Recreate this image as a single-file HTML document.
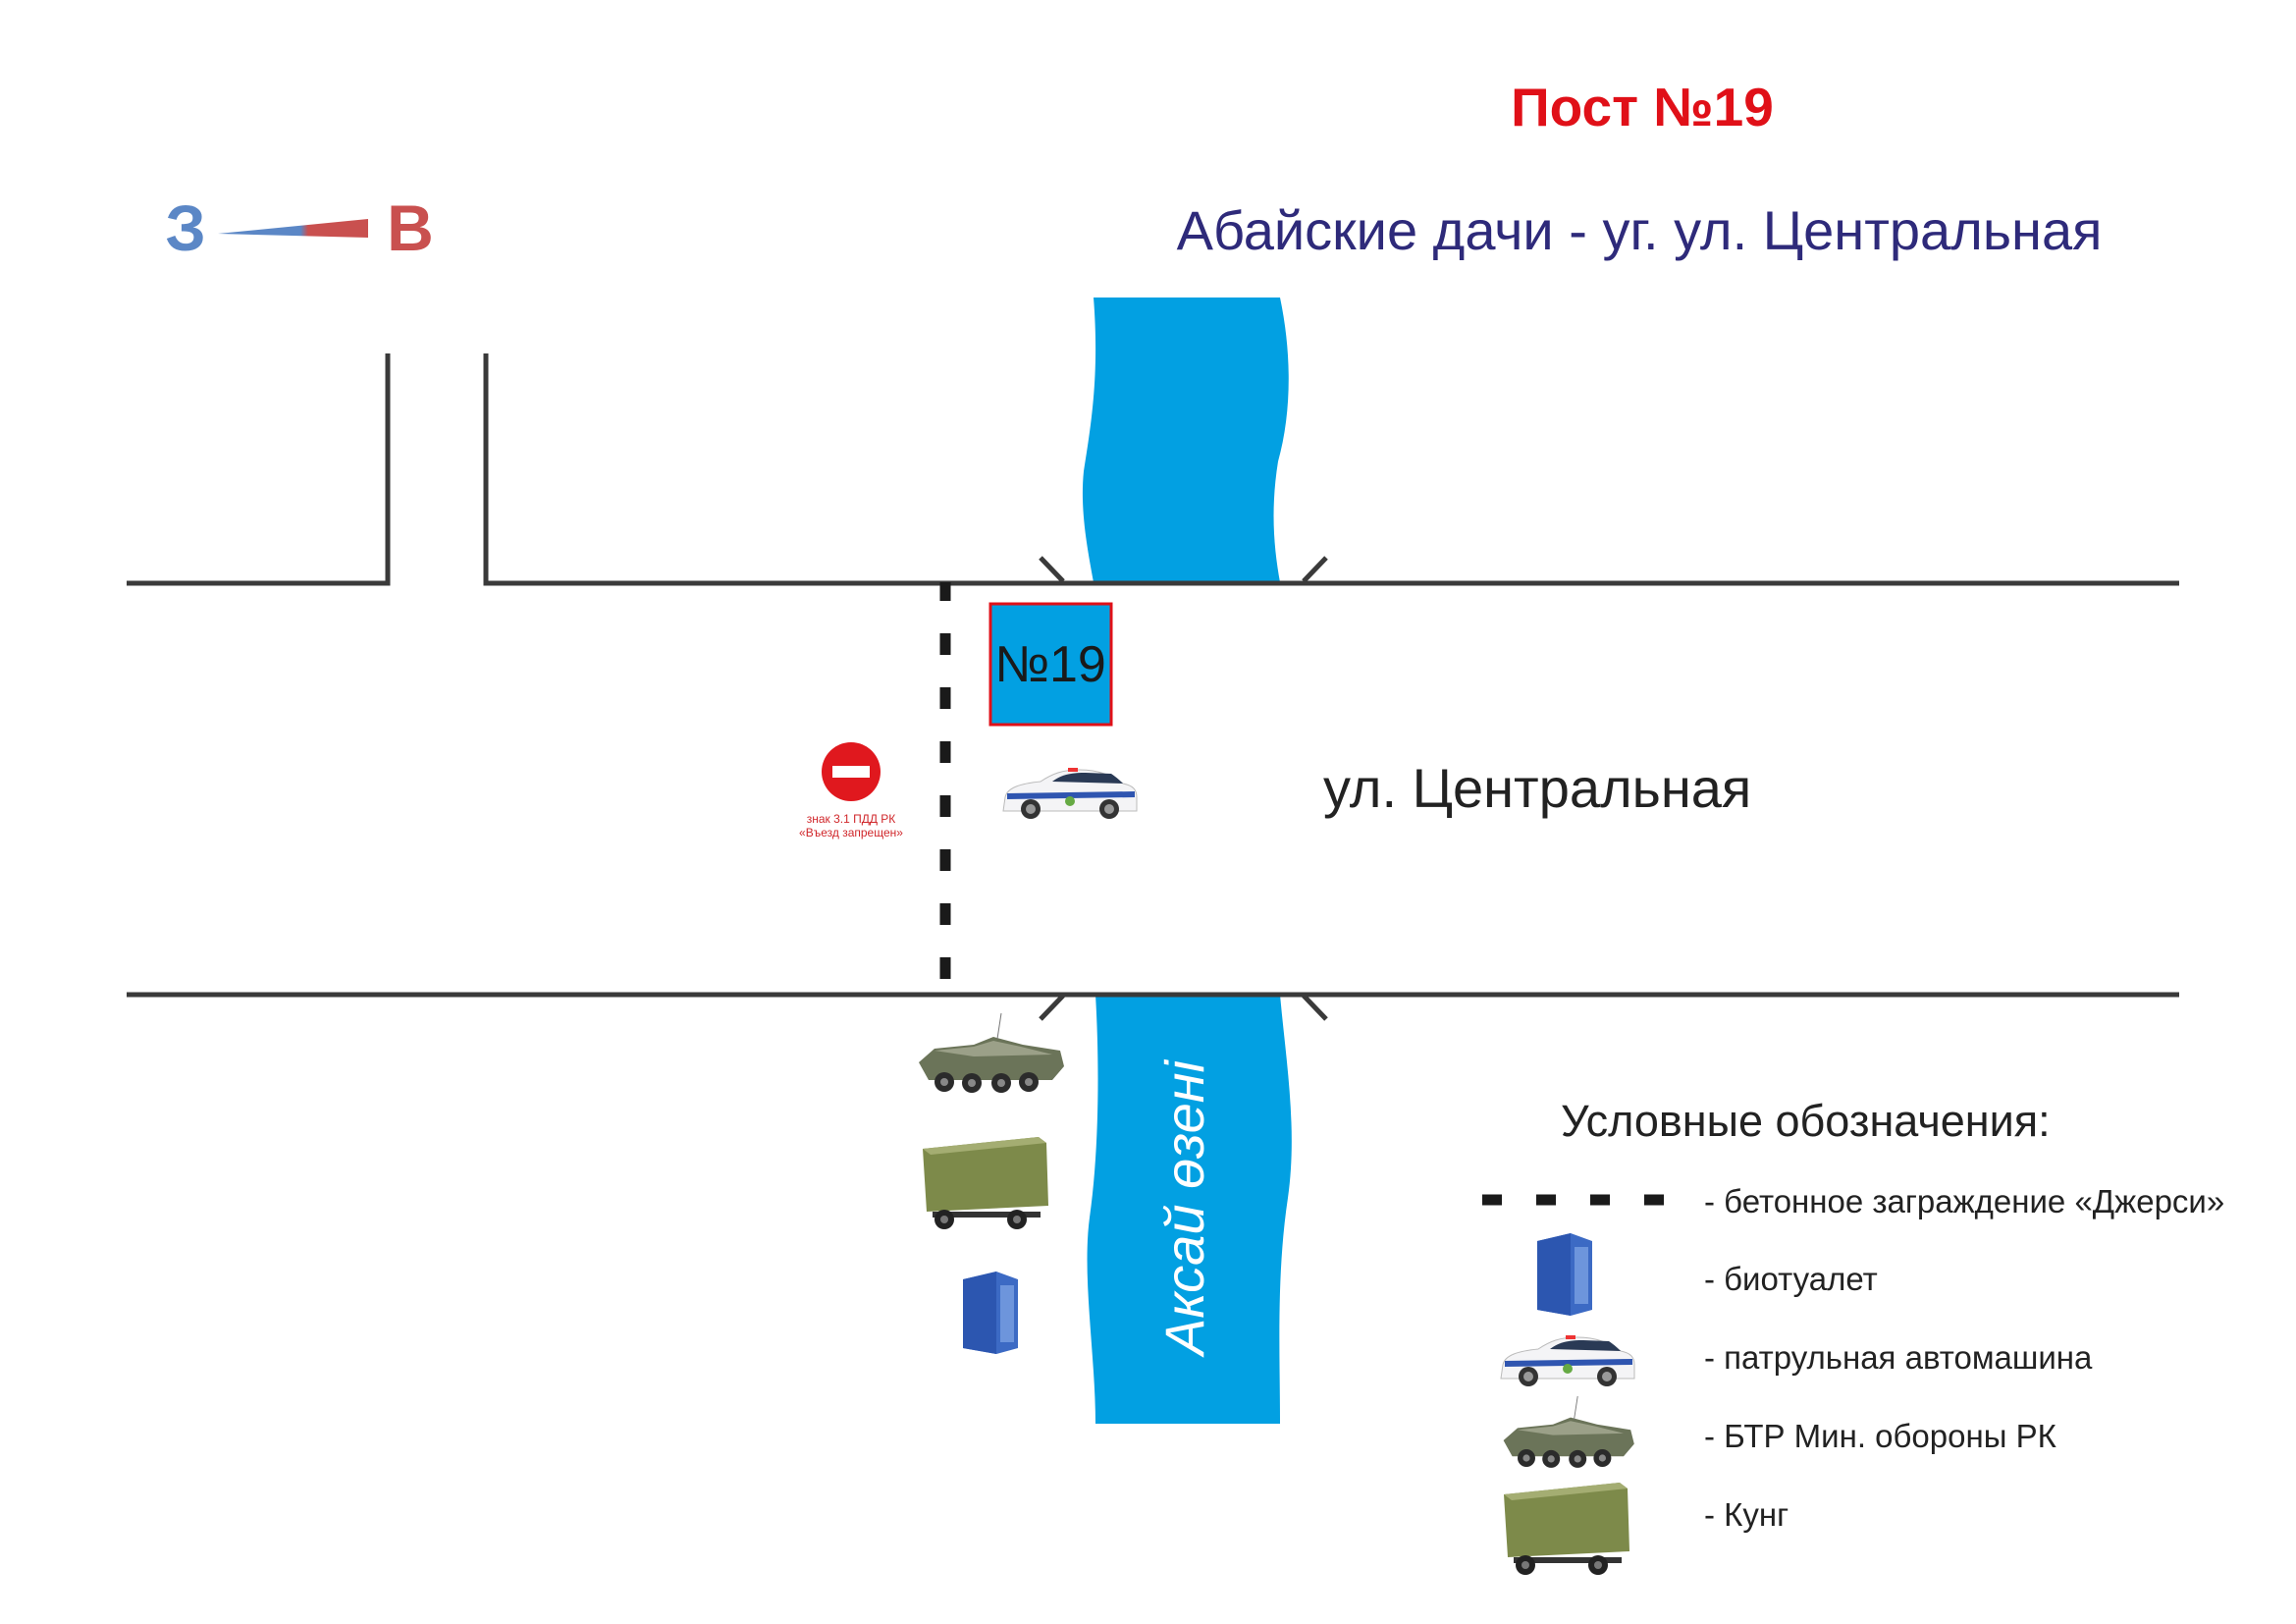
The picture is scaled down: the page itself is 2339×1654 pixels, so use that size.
<!DOCTYPE html>
<html><head><meta charset="utf-8"><style>
html,body{margin:0;padding:0;background:#fff;}
svg{display:block;}
text{font-family:"Liberation Sans",sans-serif;}
</style></head><body>
<svg width="2339" height="1654" viewBox="0 0 2339 1654" xmlns="http://www.w3.org/2000/svg">
<defs>
<linearGradient id="wg" x1="0" x2="1" y1="0" y2="0">
<stop offset="0" stop-color="#5b87c6"/><stop offset="0.55" stop-color="#5b87c6"/><stop offset="0.6" stop-color="#c9504f"/><stop offset="1" stop-color="#c9504f"/></linearGradient>
<g id="car">
<path d="M4,30 C6,20 20,16 40,14 C52,6 62,2 80,2 C100,2 112,8 124,16 C134,18 138,22 138,30 L138,44 L2,44 Z" fill="#f4f4f6" stroke="#bbb" stroke-width="1"/>
<path d="M52,14 C62,6 74,5 86,5 L112,6 C118,10 122,14 124,16 Z" fill="#2a3a55"/>
<rect x="68" y="0" width="10" height="4" fill="#e33"/>
<path d="M6,26 L136,24 L136,30 L6,32 Z" fill="#2f55b0"/>
<circle cx="30" cy="42" r="10" fill="#333"/><circle cx="30" cy="42" r="5" fill="#999"/>
<circle cx="110" cy="42" r="10" fill="#333"/><circle cx="110" cy="42" r="5" fill="#999"/>
<circle cx="70" cy="34" r="5" fill="#6a4"/>
</g>
<g id="btr">
<path d="M4,30 L20,16 L60,12 L80,4 L110,12 L148,18 L152,34 L140,48 L14,48 Z" fill="#6b7459"/>
<path d="M20,18 L60,14 L80,8 L108,14 L140,22 L60,24 Z" fill="#9ba088"/>
<line x1="84" y1="6" x2="88" y2="-20" stroke="#777" stroke-width="1"/>
<g fill="#2b2b2b"><circle cx="30" cy="50" r="10"/><circle cx="58" cy="51" r="10"/><circle cx="88" cy="51" r="10"/><circle cx="116" cy="50" r="10"/></g>
<g fill="#888"><circle cx="30" cy="50" r="4"/><circle cx="58" cy="51" r="4"/><circle cx="88" cy="51" r="4"/><circle cx="116" cy="50" r="4"/></g>
</g>
<g id="kung">
<path d="M0,12 L118,0 L126,6 L128,70 L4,76 Z" fill="#7d8a4a"/>
<path d="M0,12 L118,0 L126,6 L8,18 Z" fill="#a4ad72"/>
<rect x="10" y="76" width="110" height="6" fill="#333"/>
<circle cx="22" cy="84" r="10" fill="#222"/><circle cx="96" cy="84" r="10" fill="#222"/>
<circle cx="22" cy="84" r="4" fill="#777"/><circle cx="96" cy="84" r="4" fill="#777"/>
</g>
<g id="wc">
<path d="M6,8 L40,0 L62,8 L62,78 L40,84 L6,78 Z" fill="#3c6ac4"/>
<path d="M6,8 L40,0 L40,84 L6,78 Z" fill="#2c56b0"/>
<rect x="44" y="14" width="14" height="58" fill="#6d95dc"/>
</g>
</defs>

<text x="1673" y="128" text-anchor="middle" font-size="55" font-weight="bold" fill="#e01018">Пост №19</text>
<text x="1670" y="254" text-anchor="middle" font-size="56" fill="#2e2a7a">Абайские дачи - уг. ул. Центральная</text>

<text x="189" y="255" text-anchor="middle" font-size="66" font-weight="bold" fill="#5b87c6">З</text>
<text x="418" y="255" text-anchor="middle" font-size="66" font-weight="bold" fill="#c9504f">В</text>
<path d="M222,238 L375,223 L375,242 Z" fill="url(#wg)"/>

<!-- river -->
<path d="M1114,303 L1304,303 C1316,360 1316,420 1302,470 C1294,520 1298,560 1304,593 L1114,593 C1108,560 1100,520 1104,480 C1112,430 1120,380 1114,303 Z" fill="#02a0e2"/>
<path d="M1116,1013 L1304,1013 C1310,1080 1322,1150 1312,1220 C1300,1300 1304,1380 1304,1450 L1116,1450 C1116,1380 1102,1300 1110,1240 C1120,1170 1120,1080 1116,1013 Z" fill="#02a0e2"/>
<text transform="translate(1226,1230) rotate(-90)" text-anchor="middle" font-size="56" font-style="italic" fill="#fff">Аксай өзені</text>

<!-- roads -->
<g stroke="#3a3a3a" stroke-width="5" fill="none">
<path d="M129,594 L395,594 L395,360"/>
<path d="M495,360 L495,594 L2220,594"/>
<path d="M129,1013 L2220,1013"/>
<path d="M1060,568 L1083,592 M1351,568 L1328,592 M1083,1014 L1060,1038 M1328,1014 L1351,1038"/>
</g>
<line x1="963" y1="593" x2="963" y2="1005" stroke="#1a1a1a" stroke-width="11" stroke-dasharray="22,33" stroke-dashoffset="3"/>

<rect x="1009" y="615" width="123" height="123" fill="#02a0e2" stroke="#e01018" stroke-width="3"/>
<text x="1070" y="694" text-anchor="middle" font-size="52" fill="#1a1a1a">№19</text>

<use href="#car" transform="translate(1020,782)"/>
<text x="1348" y="822" font-size="56" fill="#222">ул. Центральная</text>

<circle cx="867" cy="786" r="30" fill="#e0181e"/>
<rect x="848" y="780" width="38" height="12" fill="#fff"/>
<text x="867" y="838" text-anchor="middle" font-size="12" fill="#d0262a">знак 3.1 ПДД РК</text>
<text x="867" y="852" text-anchor="middle" font-size="12" fill="#d0262a">«Въезд запрещен»</text>

<use href="#btr" transform="translate(932,1052)"/>
<use href="#kung" transform="translate(940,1158)"/>
<use href="#wc" transform="translate(975,1295)"/>

<!-- legend -->
<text x="1590" y="1157" font-size="45" fill="#222">Условные обозначения:</text>
<line x1="1510" y1="1222" x2="1702" y2="1222" stroke="#1a1a1a" stroke-width="11" stroke-dasharray="20,35"/>
<g font-size="33" fill="#222">
<text x="1736" y="1235">- бетонное заграждение «Джерси»</text>
<text x="1736" y="1314">- биотуалет</text>
<text x="1736" y="1394">- патрульная автомашина</text>
<text x="1736" y="1474">- БТР Мин. обороны РК</text>
<text x="1736" y="1554">- Кунг</text>
</g>
<use href="#wc" transform="translate(1560,1256)"/>
<use href="#car" transform="translate(1527,1360)"/>
<use href="#btr" transform="translate(1528,1440) scale(0.9)"/>
<use href="#kung" transform="translate(1532,1510)"/>
</svg>
</body></html>
